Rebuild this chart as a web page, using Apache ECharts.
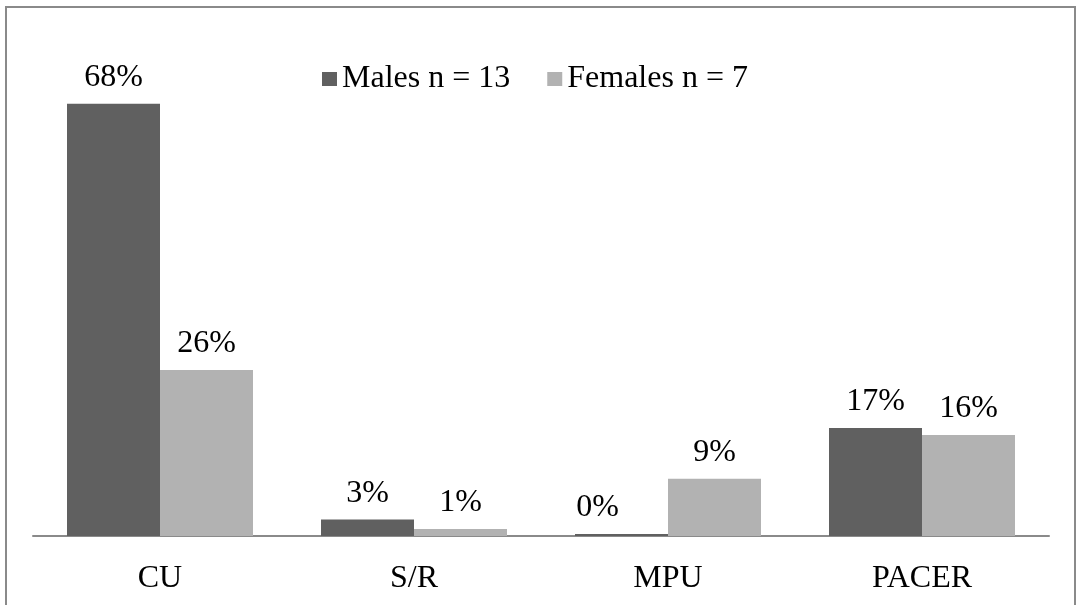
<!DOCTYPE html>
<html>
<head>
<meta charset="utf-8">
<script src="https://cdn.jsdelivr.net/npm/echarts@6/dist/echarts.min.js"></script>
<style>html,body{margin:0;padding:0;background:#fff}#c{width:1078px;height:605px}</style>
</head>
<body>
<div id="c"></div>
<script>
const categories = ['CU', 'S/R', 'MPU', 'PACER'];
const seriesNames = ['Males n = 13', 'Females n = 7'];
const males = [68, 2.6, 0.3, 17];
const females = [26.1, 1.1, 9, 15.9];

const FONT = '"Liberation Serif", "Times New Roman", serif';
const chart = echarts.init(document.getElementById('c'));

function labelFmt(p) { return Math.round(p.value) + '%'; }

const maleData = males.map((v, i) => (i === 2 ? { value: v, label: { offset: [-24, 0] } } : v));

chart.setOption({
  animation: false,
  backgroundColor: '#fff',
  graphic: [{
    type: 'rect',
    shape: { x: 6, y: 7, width: 1069, height: 640 },
    style: { fill: 'none', stroke: '#8a8a8a', lineWidth: 2 },
    silent: true
  }],
  legend: {
    left: 317, top: 58,
    icon: 'rect', itemWidth: 15, itemHeight: 14, itemGap: 37,
    textStyle: { fontFamily: FONT, fontSize: 32, color: '#000' },
    data: seriesNames
  },
  grid: { left: 33, right: 29, top: 91, bottom: 69 },
  xAxis: {
    type: 'category', data: categories,
    axisLine: { lineStyle: { color: '#8a8a8a', width: 2 } },
    axisTick: { show: false },
    axisLabel: { margin: 27, fontFamily: FONT, fontSize: 32, color: '#000' }
  },
  yAxis: { type: 'value', min: 0, max: 70, show: false, splitLine: { show: false } },
  series: [
    {
      name: seriesNames[0], type: 'bar', data: maleData, barWidth: 93, barGap: '0%',
      itemStyle: { color: '#606060' },
      label: { show: true, position: 'top', distance: 10, formatter: labelFmt, fontFamily: FONT, fontSize: 32, color: '#000' }
    },
    {
      name: seriesNames[1], type: 'bar', data: females, barWidth: 93, barGap: '0%',
      itemStyle: { color: '#b2b2b2' },
      label: { show: true, position: 'top', distance: 10, formatter: labelFmt, fontFamily: FONT, fontSize: 32, color: '#000' }
    }
  ]
});
</script>
</body>
</html>
